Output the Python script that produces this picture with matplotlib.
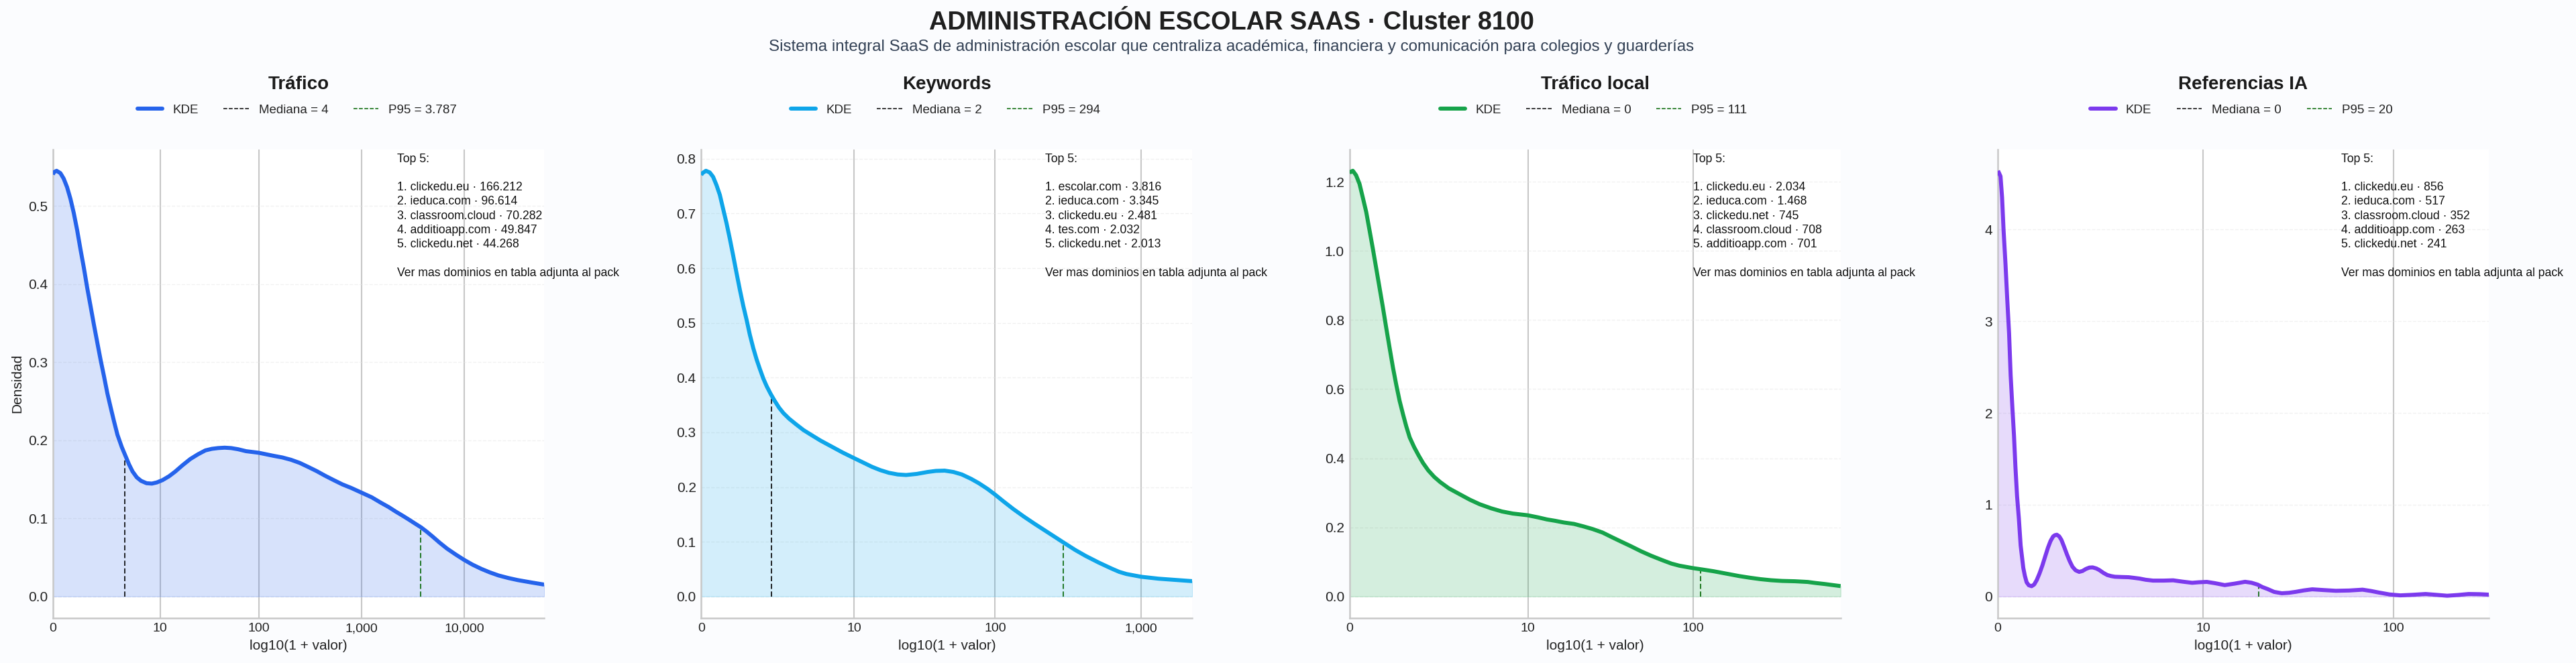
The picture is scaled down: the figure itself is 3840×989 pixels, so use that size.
#!/usr/bin/env python3
"""Densidades KDE por metrica del cluster 8100 (escala log10(1 + valor))."""

import numpy as np
import matplotlib
matplotlib.use("Agg")
import matplotlib.pyplot as plt
from matplotlib.lines import Line2D

plt.rcParams["font.family"] = ["Liberation Sans", "DejaVu Sans"]

TITLE = "ADMINISTRACIÓN ESCOLAR SAAS · Cluster 8100"
SUBTITLE = ("Sistema integral SaaS de administración escolar que centraliza "
            "académica, financiera y comunicación para colegios y guarderías")

panel_names = ["Tráfico", "Keywords", "Tráfico local", "Referencias IA"]
panel_colors = ["#2563EB", "#0EA5E9", "#16A34A", "#7C3AED"]
medians = [4, 2, 0, 0]
p95_values = [3787, 294, 111, 20]
p95_labels = ["3.787", "294", "111", "20"]

top5_trafico = ["clickedu.eu · 166.212", "ieduca.com · 96.614",
                "classroom.cloud · 70.282", "additioapp.com · 49.847",
                "clickedu.net · 44.268"]
top5_keywords = ["escolar.com · 3.816", "ieduca.com · 3.345",
                 "clickedu.eu · 2.481", "tes.com · 2.032",
                 "clickedu.net · 2.013"]
top5_local = ["clickedu.eu · 2.034", "ieduca.com · 1.468",
              "clickedu.net · 745", "classroom.cloud · 708",
              "additioapp.com · 701"]
top5_ia = ["clickedu.eu · 856", "ieduca.com · 517", "classroom.cloud · 352",
           "additioapp.com · 263", "clickedu.net · 241"]

x_ticks_raw = [[0, 10, 100, 1000, 10000], [0, 10, 100, 1000],
               [0, 10, 100], [0, 10, 100]]
y_ticks = [[0.0, 0.1, 0.2, 0.3, 0.4, 0.5],
           [0.0, 0.1, 0.2, 0.3, 0.4, 0.5, 0.6, 0.7, 0.8],
           [0.0, 0.2, 0.4, 0.6, 0.8, 1.0, 1.2],
           [0, 1, 2, 3, 4]]
y_formats = ["{:.1f}", "{:.1f}", "{:.1f}", "{:.0f}"]

# curvas (x en log10(1 + valor))
x_trafico = [0, .0065, .035, .072, .104, .137, .17, .202, .235, .268, .30,
             .333, .365, .398, .431, .463, .496, .529, .561, .594, .627, .67,
             .705, .74, .774, .815, .857, .91, .962, 1.01, 1.066, 1.13, 1.19,
             1.26, 1.336, 1.41, 1.482, 1.545, 1.607, 1.67, 1.732, 1.8, 1.878,
             2.0, 2.148, 2.23, 2.315, 2.4, 2.48, 2.565, 2.648, 2.73, 2.815,
             2.9, 3.0, 3.1, 3.19, 3.265, 3.335, 3.4, 3.46, 3.52, 3.58, 3.635,
             3.69, 3.76, 3.834, 3.92, 4.0, 4.08, 4.167, 4.25, 4.334, 4.43,
             4.52, 4.65, 4.778]
y_trafico = [.54, .543, .545, .542, .535, .524, .509, .491, .469, .444, .421,
             .395, .372, .348, .325, .303, .282, .26, .242, .224, .207, .191,
             .18, .169, .160, .1525, .148, .145, .1445, .146, .149, .154, .160,
             .168, .176, .182, .187, .189, .190, .1905, .190, .1885, .186,
             .184, .180, .178, .175, .171, .166, .1605, .1545, .149, .1435,
             .139, .133, .127, .120, .1145, .1086, .1035, .0986, .0935, .0885,
             .083, .077, .069, .0612, .0535, .0468, .0408, .0353, .0308, .0269,
             .0236, .021, .018, .0152]

x_keywords = [0, .005, .032, .058, .081, .104, .127, .149, .172, .195, .218,
              .241, .264, .287, .31, .332, .355, .378, .401, .424, .447, .474,
              .5, .531, .561, .599, .645, .698, .752, .813, .889, .965, 1.041,
              1.118, 1.164, 1.22, 1.28, 1.34, 1.397, 1.47, 1.543, 1.6, 1.66,
              1.72, 1.777, 1.84, 1.893, 1.95, 2.0, 2.06, 2.127, 2.2, 2.272,
              2.37, 2.468, 2.55, 2.622, 2.71, 2.798, 2.85, 2.9, 2.95, 3.0,
              3.118, 3.22, 3.349]
y_keywords = [.77, .773, .778, .775, .767, .752, .734, .709, .683, .654, .623,
              .591, .56, .531, .505, .478, .454, .433, .415, .398, .384, .37,
              .358, .345, .335, .325, .315, .304, .295, .285, .274, .263, .253,
              .243, .237, .231, .226, .223, .222, .224, .2275, .2295, .23,
              .2275, .223, .215, .207, .197, .187, .174, .16, .146, .133,
              .116, .099, .085, .074, .062, .051, .045, .041, .0385, .036,
              .0325, .0305, .028]

x_local = [0, .0065, .02, .039, .059, .078, .098, .117, .137, .156, .176, .196,
           .215, .235, .254, .274, .293, .313, .332, .352, .378, .404, .43,
           .46, .495, .53, .58, .658, .703, .76, .828, .89, .953, 1.04, 1.1,
           1.152, 1.2, 1.252, 1.31, 1.364, 1.42, 1.477, 1.53, 1.576, 1.64,
           1.701, 1.76, 1.826, 1.88, 1.926, 2.005, 2.06, 2.125, 2.2, 2.275,
           2.34, 2.4, 2.46, 2.524, 2.6, 2.674, 2.72, 2.774, 2.82, 2.866]
y_local = [1.225, 1.229, 1.232, 1.219, 1.194, 1.155, 1.113, 1.061, 1.006, .951,
           .893, .835, .777, .718, .663, .611, .566, .527, .492, .46, .432,
           .408, .386, .365, .346, .331, .313, .292, .28, .267, .255, .246,
           .24, .235, .229, .223, .219, .214, .21, .203, .195, .185, .172,
           .161, .146, .131, .118, .105, .095, .089, .082, .078, .073, .066,
           .059, .054, .05, .047, .045, .044, .042, .039, .036, .033, .03]

x_ia = [.002, .0147, .0226, .03, .04, .049, .058, .066, .075, .083, .09, .0985,
        .1076, .1166, .13, .138, .147, .158, .172, .185, .198, .212, .2265,
        .24, .255, .268, .281, .29, .30, .312, .323, .337, .351, .365, .379,
        .395, .413, .43, .447, .465, .481, .5, .515, .535, .555, .575, .594,
        .63, .663, .69, .719, .75, .787, .84, .889, .935, .985, 1.02, 1.059,
        1.1, 1.15, 1.2, 1.253, 1.285, 1.317, 1.34, 1.366, 1.4, 1.439, 1.475,
        1.511, 1.55, 1.593, 1.65, 1.712, 1.78, 1.848, 1.89, 1.93, 1.985,
        2.039, 2.1, 2.167, 2.22, 2.276, 2.33, 2.385, 2.44, 2.487]
y_ia = [4.64, 4.58, 4.35, 4.0, 3.62, 3.23, 2.87, 2.41, 2.05, 1.75, 1.42, 1.093,
        .849, .556, .312, .225, .154, .122, .112, .13, .178, .25, .337,
        .43, .532, .605, .654, .668, .673, .655, .617, .54, .459, .385, .324,
        .285, .268, .278, .30, .315, .317, .305, .288, .258, .234, .222, .215,
        .212, .21, .203, .195, .182, .173, .173, .176, .162, .149, .155, .159,
        .145, .124, .14, .16, .15, .129, .103, .082, .05, .035, .04,
        .051, .066, .078, .07, .062, .065, .074, .06, .043, .022,
        .012, .018, .027, .018, .008, .016, .027, .025, .02]

curves = [(x_trafico, y_trafico), (x_keywords, y_keywords),
          (x_local, y_local), (x_ia, y_ia)]
top5_lists = [top5_trafico, top5_keywords, top5_local, top5_ia]

fig, axes = plt.subplots(1, 4, figsize=(38.4, 9.89), dpi=100)
fig.patch.set_facecolor("#FBFCFE")
fig.subplots_adjust(left=79 / 3840, right=3710 / 3840, wspace=0.3197,
                    top=1 - 223 / 989, bottom=1 - 921.5 / 989)

for i, ax in enumerate(axes):
    xs, ys = curves[i]
    color = panel_colors[i]
    ax.set_facecolor("white")

    ax.fill_between(xs, ys, 0, color=color, alpha=0.18)
    ax.plot(xs, ys, color=color, lw=4.3, solid_joinstyle="round",
            solid_capstyle="butt", zorder=3)

    # mediana y P95 llegan solo hasta la curva
    med_x = np.log10(1 + medians[i])
    p95_x = np.log10(1 + p95_values[i])
    ax.plot([med_x, med_x], [0, np.interp(med_x, xs, ys)], color="black",
            lw=1.2, ls=(0, (4.6, 2.3)), zorder=2)
    ax.plot([p95_x, p95_x], [0, np.interp(p95_x, xs, ys)], color="darkgreen",
            lw=1.2, ls=(0, (4.6, 2.3)), zorder=2)

    ax.set_xlim(0, xs[-1])
    ymax = max(ys)
    ax.set_ylim(-0.05 * ymax, 1.05 * ymax)

    ticks = x_ticks_raw[i]
    ax.set_xticks(np.log10(1 + np.array(ticks)))
    ax.set_xticklabels([f"{t:,}" for t in ticks], fontsize=14)
    ax.set_yticks(y_ticks[i])
    ax.set_yticklabels([y_formats[i].format(t) for t in y_ticks[i]], fontsize=15)
    ax.tick_params(axis="both", length=0, colors="#222222")
    ax.tick_params(axis="y", pad=5.5)
    ax.tick_params(axis="x", pad=5.5)

    ax.grid(True, axis="x", color="#BDBDBD", lw=1.5, alpha=0.85)
    ax.grid(True, axis="y", color="#E5E5E5", lw=1.0, ls="--", alpha=0.5)
    ax.set_axisbelow(True)

    for side in ("top", "right"):
        ax.spines[side].set_visible(False)
    for side in ("left", "bottom"):
        ax.spines[side].set_color("#C8C8C8")
        ax.spines[side].set_linewidth(1.8)

    ax.set_xlabel("log10(1 + valor)", fontsize=15, color="#222222", labelpad=6)
    if i == 0:
        ax.set_ylabel("Densidad", fontsize=15, color="#222222", labelpad=5)

    ax.set_title(panel_names[i], fontsize=20, fontweight="bold",
                 color="#1A1A1A", pad=65)

    handles = [
        Line2D([], [], color=color, lw=4.3, solid_capstyle="round"),
        Line2D([], [], color="black", lw=1.1, ls="--"),
        Line2D([], [], color="darkgreen", lw=1.1, ls="--"),
    ]
    labels = ["KDE", f"Mediana = {medians[i]}", f"P95 = {p95_labels[i]}"]
    ax.legend(handles, labels, loc="center", bbox_to_anchor=(0.497, 1.084),
              ncol=3, frameon=False, fontsize=13.5, handlelength=2.0,
              columnspacing=2.0, handletextpad=0.8, labelcolor="#222222")

    lines = ["Top 5:", ""]
    lines += [f"{n}. {d}" for n, d in enumerate(top5_lists[i], start=1)]
    lines += ["", "Ver mas dominios en tabla adjunta al pack"]
    ax.text(0.70, 0.992, "\n".join(lines), transform=ax.transAxes, va="top",
            ha="left", fontsize=12.7, linespacing=1.33, color="#111111")

fig.text(0.478, 0.966, TITLE, ha="center", va="center", fontsize=27.3,
         fontweight="bold", color="#1F1F1F")
fig.text(0.478, 0.929, SUBTITLE, ha="center", va="center", fontsize=17.4,
         color="#334155")

fig.savefig("out.png", dpi=100, facecolor=fig.get_facecolor())
